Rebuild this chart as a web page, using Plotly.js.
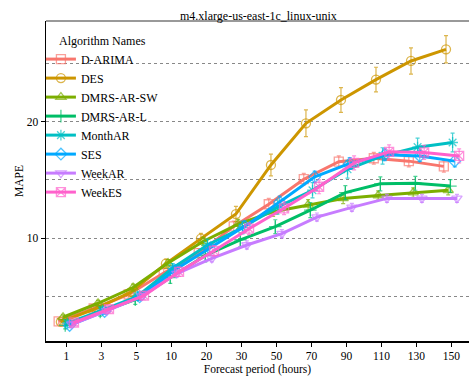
<!DOCTYPE html>
<html>
<head>
<meta charset="utf-8">
<script src="https://cdn.plot.ly/plotly-3.0.1.min.js"></script>
<style>html,body{margin:0;padding:0;background:#fff;}#chart{width:469px;height:381px;}</style>
</head>
<body>
<div id="chart"></div>
<script>
var categories = ['1','3','5','10','20','30','50','70','90','110','130','150'];
var seriesNames = ['D-ARIMA','DES','DMRS-AR-SW','DMRS-AR-L','MonthAR','SES','WeekAR','WeekES'];

var dArima   = [2.85, 3.95, 5.15, 7.0, 8.7, 11.0, 12.9, 15.05, 16.55, 16.85, 16.6, 16.15];
var des      = [2.8, 3.95, 5.35, 7.8, 9.95, 12.06, 16.27, 19.85, 21.85, 23.6, 25.2, 26.2];
var dmrsArSw = [3.2, 4.4, 5.75, 7.85, 9.7, 11.2, 12.26, 12.85, 13.4, 13.65, 13.9, 14.1];
var dmrsArL  = [2.5, 3.65, 4.7, 6.6, 8.5, 9.85, 10.97, 12.4, 13.9, 14.65, 14.7, 14.46];
var monthAr  = [2.7, 3.8, 5.0, 7.4, 9.4, 10.9, 12.65, 14.1, 15.9, 17.05, 17.8, 18.2];
var ses      = [2.5, 3.7, 4.95, 7.25, 9.1, 11.0, 13.1, 15.25, 16.4, 17.15, 17.05, 16.6];
var weekAr   = [2.6, 3.75, 5.0, 6.95, 8.25, 9.4, 10.37, 11.8, 12.63, 13.4, 13.4, 13.4];
var weekEs   = [2.75, 3.9, 5.05, 7.1, 8.9, 10.8, 12.55, 14.4, 16.45, 17.4, 17.35, 17.05];

var errDArima   = [0.25,0.25,0.3,0.35,0.4,0.45,0.5,0.5,0.5,0.5,0.5,0.5];
var errDes      = [0.2,0.25,0.3,0.4,0.45,0.65,0.93,1.15,1.06,1.06,1.13,1.17];
var errDmrsArSw = [0.2,0.25,0.3,0.3,0.35,0.4,0.4,0.45,0.45,0.4,0.4,0.4];
var errDmrsArL  = [0.3,0.35,0.4,0.5,0.55,0.6,0.6,0.65,0.6,0.6,0.6,0.55];
var errMonthAr  = [0.25,0.3,0.35,0.4,0.5,0.55,0.6,0.65,0.75,0.7,0.78,0.8];
var errSes      = [0.2,0.25,0.3,0.35,0.4,0.45,0.5,0.5,0.5,0.5,0.5,0.5];
var errWeekAr   = [0.2,0.2,0.25,0.3,0.3,0.35,0.35,0.35,0.35,0.35,0.35,0.35];
var errWeekEs   = [0.25,0.3,0.35,0.4,0.45,0.5,0.55,0.6,0.6,0.6,0.6,0.6];

var values = [dArima, des, dmrsArSw, dmrsArL, monthAr, ses, weekAr, weekEs];
var errors = [errDArima, errDes, errDmrsArSw, errDmrsArL, errMonthAr, errSes, errWeekAr, errWeekEs];
var colors = ['#F8766D','#CD9600','#7CAE00','#00BE67','#00BFC4','#00A9FF','#C77CFF','#FF61CC'];
var colorsA = ['rgba(248,118,109,0.7)','rgba(205,150,0,0.7)','rgba(124,174,0,0.7)','rgba(0,190,103,0.7)','rgba(0,191,196,0.7)','rgba(0,169,255,0.7)','rgba(199,124,255,0.7)','rgba(255,97,204,0.7)'];
var symbols = ['square-open','circle-open','triangle-up-open','cross-thin-open','asterisk-open','diamond-open','triangle-down-open','square-x-open'];

var FONT = '"Liberation Serif", "Times New Roman", serif';
var traces = seriesNames.map(function(name, i){
  return {
    type: 'scatter', mode: 'lines+markers', name: name,
    x: categories, y: values[i],
    line: {color: colors[i], width: 3},
    marker: {symbol: symbols[i], size: 9, color: colorsA[i], line: {color: colorsA[i], width: 1.3}},
    error_y: {type: 'data', array: errors[i], visible: true, color: colorsA[i], thickness: 1.2, width: 2},
    cliponaxis: false
  };
});

var layout = {
  width: 469, height: 381,
  margin: {l: 46, r: 0, t: 21, b: 40},
  paper_bgcolor: '#fff', plot_bgcolor: '#fff',
  font: {family: FONT, size: 12, color: '#000'},
  scattermode: 'group', scattergap: 0.5,
  title: {text: 'm4.xlarge-us-east-1c_linux-unix', font: {family: FONT, size: 12, color: '#000'}, x: 0.551, xanchor: 'center', y: 0.958, yanchor: 'middle'},
  xaxis: {
    type: 'category', range: [-0.58, 11.5],
    showgrid: false, zeroline: false,
    showline: true, linecolor: '#000', linewidth: 1.5,
    ticks: 'outside', ticklen: 4, tickcolor: '#000', tickwidth: 1,
    tickfont: {family: FONT, size: 11.5, color: '#000'},
    title: {text: 'Forecast period (hours)', font: {family: FONT, size: 11.5, color: '#000'}, standoff: 3}
  },
  yaxis: {
    range: [1.16, 28.63],
    tickvals: [10, 20], ticktext: ['10','20'],
    showgrid: true, gridcolor: '#888', griddash: 'dot', gridwidth: 1,
    minor: {dtick: 5, tick0: 0, showgrid: true, gridcolor: '#888', griddash: 'dot', gridwidth: 1, ticks: ''},
    zeroline: false,
    showline: true, linecolor: '#000', linewidth: 1.5,
    ticks: 'outside', ticklen: 4, tickcolor: '#000', tickwidth: 1,
    tickfont: {family: FONT, size: 11.5, color: '#000'},
    title: {text: 'MAPE', font: {family: FONT, size: 11.5, color: '#000'}, standoff: 0}
  },
  shapes: [{type: 'line', xref: 'paper', yref: 'paper', x0: 0, x1: 1, y0: 1, y1: 1, line: {color: '#777', width: 1.5}}],
  legend: {
    x: -0.012, xanchor: 'left', y: 0.975, yanchor: 'top',
    bgcolor: 'rgba(0,0,0,0)',
    font: {family: FONT, size: 12, color: '#000'},
    title: {text: 'Algorithm Names', side: 'top center', font: {family: FONT, size: 12, color: '#000'}},
    tracegroupgap: 0
  },
  showlegend: true
};

Plotly.newPlot('chart', traces, layout, {displayModeBar: false, staticPlot: true});
</script>
</body>
</html>
